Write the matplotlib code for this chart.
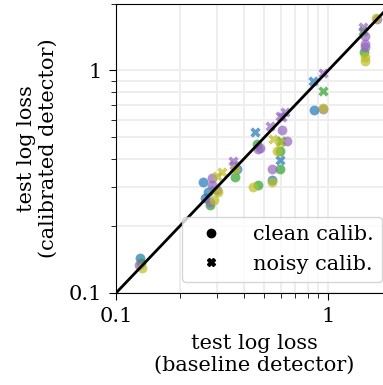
import matplotlib
matplotlib.use("Agg")
import matplotlib.pyplot as plt
from matplotlib.lines import Line2D
import numpy as np

plt.rcParams["font.family"] = ["DejaVu Serif"]
plt.rcParams["font.size"] = 15

# baseline loss, calibrated loss, method index, noisy calib flag
base_loss = [
    0.130, 0.131, 0.129, 0.133,
    0.257, 0.270, 0.262, 0.284, 0.284, 0.278, 0.299, 0.278, 0.364, 0.302, 0.290, 0.364, 0.372,
    0.316, 0.300, 0.356, 0.360, 0.290,
    0.452, 0.533, 0.550, 0.594, 0.600, 0.594, 0.607, 0.627, 0.594,
    0.462, 0.467, 0.478, 0.607, 0.641, 0.575, 0.594, 0.544, 0.594, 0.544, 0.544, 0.467, 0.443,
    0.850, 0.947, 0.947, 0.859, 0.947, 0.950,
    1.70, 1.68, 1.46, 1.49, 1.49, 1.49, 1.47, 1.49, 1.49, 1.46,
]
calib_loss = [
    0.144, 0.137, 0.134, 0.130,
    0.316, 0.283, 0.268, 0.330, 0.305, 0.257, 0.290, 0.249, 0.333, 0.283, 0.262, 0.359, 0.359,
    0.351, 0.335, 0.390, 0.375, 0.290,
    0.527, 0.561, 0.490, 0.475, 0.480, 0.398, 0.616, 0.648, 0.622,
    0.465, 0.442, 0.450, 0.538, 0.480, 0.433, 0.433, 0.359, 0.359, 0.323, 0.316, 0.307, 0.301,
    0.895, 0.973, 0.807, 0.661, 0.669, 0.675,
    1.70, 1.72, 1.57, 1.43, 1.31, 1.27, 1.21, 1.15, 1.10, 1.50,
]
method = [
    0, 1, 2, 3,
    0, 0, 0, 2, 2, 2, 2, 1, 1, 3, 3, 3, 0,
    3, 3, 2, 2, 1,
    0, 2, 3, 3, 1, 0, 2, 2, 2,
    1, 2, 2, 2, 2, 3, 1, 2, 1, 0, 3, 1, 3,
    0, 2, 1, 0, 2, 3,
    2, 3, 2, 2, 2, 2, 1, 3, 3, 1,
]
noisy = [
    0, 0, 0, 0,
    0, 0, 0, 0, 0, 0, 0, 0, 0, 0, 0, 0, 0,
    1, 1, 1, 1, 1,
    1, 1, 1, 1, 1, 1, 1, 1, 1,
    0, 0, 0, 0, 0, 0, 0, 0, 0, 0, 0, 0, 0,
    1, 1, 1, 0, 0, 0,
    0, 0, 1, 0, 0, 0, 0, 0, 0, 1,
]
method_colors = ["tab:blue", "tab:green", "tab:purple", "tab:olive"]

base_loss = np.array(base_loss)
calib_loss = np.array(calib_loss)
method = np.array(method)
noisy = np.array(noisy)

fig = plt.figure(figsize=(3.83, 3.85), dpi=100)
ax = fig.add_axes([116 / 383, 1 - 293 / 385, 276 / 383, 289.5 / 385])

for m, c in enumerate(method_colors):
    for nz, mk in [(0, "o"), (1, "X")]:
        sel = (method == m) & (noisy == nz)
        ax.scatter(base_loss[sel], calib_loss[sel], color=c, marker=mk,
                   s=50 if mk == "o" else 55, alpha=0.7, linewidths=0, zorder=2)

ax.plot([0.1, 2], [0.1, 2], color="black", lw=2, zorder=3)

ax.set_xscale("log")
ax.set_yscale("log")
ax.set_xlim(0.1, 2)
ax.set_ylim(0.1, 2)
ax.set_xticks([0.1, 1])
ax.set_xticklabels(["0.1", "1"])
ax.set_yticks([0.1, 1])
ax.set_yticklabels(["0.1", "1"])
ax.grid(True, which="both", color="#eeeeee", lw=1.4, zorder=0)
ax.set_axisbelow(True)
ax.tick_params(which="major", length=5, pad=5)
ax.tick_params(which="minor", length=3.5)
ax.spines["right"].set_visible(False)

ax.set_xlabel("test log loss\n(baseline detector)", labelpad=6)
ax.set_ylabel("test log loss\n(calibrated detector)", labelpad=8)

handles = [
    Line2D([], [], marker="o", color="black", ls="none", markersize=6),
    Line2D([], [], marker="X", color="black", ls="none", markersize=6),
]
ax.legend(handles, ["clean calib.", "noisy calib."], loc="lower right",
          bbox_to_anchor=(382 / 383, 1 - 282 / 385), bbox_transform=fig.transFigure,
          borderaxespad=0, handletextpad=1.0, framealpha=0.8)

fig.savefig("out.png", dpi=100)
